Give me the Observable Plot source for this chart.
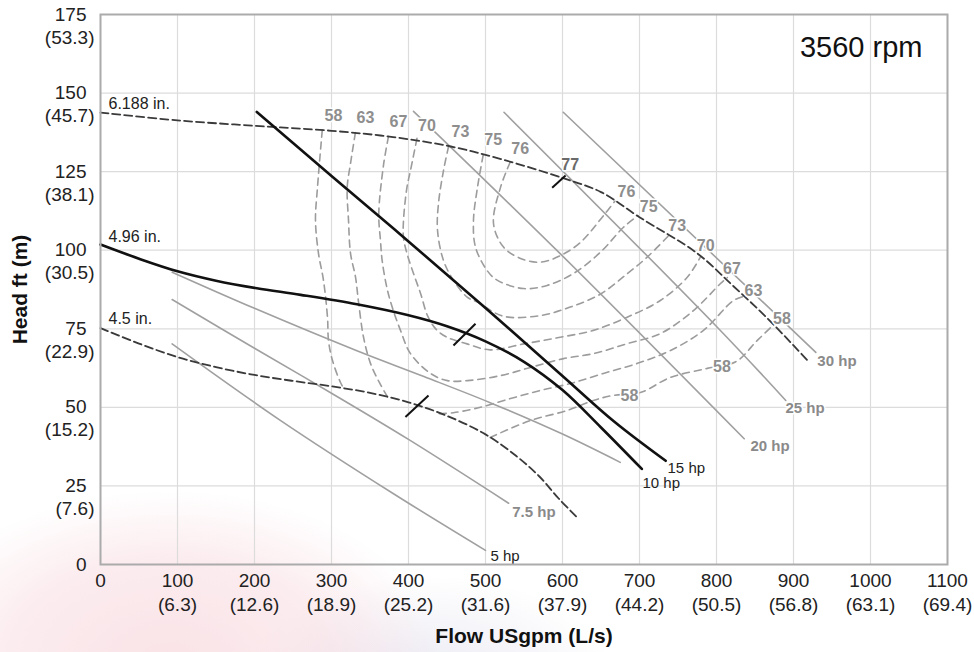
<!DOCTYPE html>
<html>
<head>
<meta charset="utf-8">
<script src="https://cdn.jsdelivr.net/npm/d3@7"></script>
<script src="https://cdn.jsdelivr.net/npm/@observablehq/plot@0.6"></script>
<style>
  html, body { margin: 0; padding: 0; }
  body {
    width: 974px; height: 652px; overflow: hidden;
    background:
      radial-gradient(ellipse 270px 170px at 170px 660px, rgba(246,208,215,0.6), rgba(246,208,215,0.4) 60%, rgba(246,208,215,0) 100%),
      radial-gradient(ellipse 190px 115px at 430px 690px, rgba(214,214,232,0.55), rgba(214,214,232,0) 100%),
      #ffffff;
  }
</style>
</head>
<body>
<script>
// ---------- axis ticks ----------
const xTicks = [0, 100, 200, 300, 400, 500, 600, 700, 800, 900, 1000, 1100];
const xMetric = ["", "(6.3)", "(12.6)", "(18.9)", "(25.2)", "(31.6)", "(37.9)", "(44.2)", "(50.5)", "(56.8)", "(63.1)", "(69.4)"];
const yTicks = [0, 25, 50, 75, 100, 125, 150, 175];
const yMetric = ["", "(7.6)", "(15.2)", "(22.9)", "(30.5)", "(38.1)", "(45.7)", "(53.3)"];

// ---------- impeller curves (flow USgpm, head ft) ----------
const imp6188 = [[0,143.8],[100,141.3],[200,139.6],[300,138],[380,136],[455,133],[520,129],[600,123],[650,118.5],[700,110.5],[775,99],[820,89],[865,78.6],[918,65]];
const imp496 = [[0,101.8],[50,97.3],[100,93.3],[150,90.3],[203,87.9],[260,85.8],[333,82.8],[400,79.3],[450,75.8],[500,71],[550,64.5],[600,55.5],[650,43.6],[703,30.4]];
const imp45 = [[0,75.2],[50,70.3],[100,66],[150,62.8],[200,60.3],[250,58.4],[300,56.7],[350,54.6],[400,51.6],[450,47.3],[500,41.4],[540,34.5],[570,28],[595,21],[619,15]];
const line15hp = [[203,144],[300,123.6],[400,102.8],[500,81.6],[600,60],[667,45.5],[734,33]];

// ---------- power lines (grey) ----------
const hp5 = [[93,70.2],[234,45.8],[380,22.6],[500,4.5]];
const hp75 = [[93,84.3],[200,68.8],[300,54.5],[400,39.8],[530,19.5]];
const hp10 = [[93,93],[200,81.5],[333,68],[420,59.8],[506,51.5],[600,41.5],[675,32.5]];
const hp20 = [[406.5,144.2],[597,98.9],[836,40]];
const hp25 = [[524,143.9],[801,75.5],[890,52.2]];
const hp30 = [[601,143.9],[929,67.5]];

// ---------- efficiency contours ----------
const eff58a = [[288,138.2],[281.8,120],[279.2,109.5],[283.1,99],[289.6,90.4],[294.8,78.6],[296.1,71.3],[301.3,64.9],[311.7,57.9],[316,56]];
const eff58b = [[506,40.4],[558,45.8],[606,49],[640,52.2],[666,53.8],[701,54.7],[740,59.5],[788,62.4],[825,64.5],[853,71.3],[875,76.5]];
const eff63a = [[331,137.4],[324.7,127.6],[320.4,120],[322.1,109.5],[324.7,99],[331.2,91.4],[335.1,83.5],[341.6,72.3],[350.6,64],[362,58],[374,52.8]];
const eff63b = [[440,48],[458.4,48.3],[489.6,49.8],[532.5,52.8],[571.4,55.4],[610.4,57.6],[653.2,60.8],[697.4,64],[740.3,68.1],[783.1,74.5],[822.1,84],[838,85.5]];
const eff67 = [[374,136.2],[367.5,127],[361.4,111.6],[363.6,103.1],[365.8,96.7],[372,88],[378.8,81.9],[389.6,74.5],[402.6,67.1],[428.6,60.8],[450.6,58.5],[476.6,58.5],[519.5,60.1],[558.4,62.7],[601.3,65.5],[640.3,67.1],[684.4,70.3],[727.3,73.5],[770.1,80.8],[805.2,89.4],[814,91.3]];
const eff70 = [[411,135.6],[402.6,125.4],[398,120],[393.5,109.5],[393.5,104],[398,99],[406.5,92.6],[416,86],[425,79],[436,74.8],[450,72.3],[476,70.2],[506,68.3],[550,70.2],[597,72.3],[640,74.5],[684,78.7],[727,84],[762,91.4],[779,97.8]];
const eff73 = [[452,133],[445.5,125.4],[439,115],[437.7,106.3],[445.5,96.7],[458.4,90.4],[476.6,85],[489.6,83.5],[523,79],[571,79.2],[610,81.9],[649,86],[684,92.5],[710,97.8],[738,104.7]];
const eff75 = [[497,130.3],[489.6,120],[484.4,109.5],[487,101],[502.2,93.5],[515.6,90.4],[549.4,87.8],[580,88.8],[614.3,92.6],[649.4,99.4],[679.2,107.3],[698,111]];
const eff76 = [[532,128],[519.5,120],[510.4,108.5],[523.4,101],[545.5,97.4],[571.4,96.2],[597.4,98.3],[623.4,102.5],[653.2,111],[668,115.6]];

// ---------- labels ----------
const effLabelText = ["58","63","67","70","73","75","76","77","76","75","73","70","67","63","58","58","58"];
const effLabelX = [302.6,344,387,424,467.5,510,545,610,683,712,749,786,820,848,885,807,687];
const effLabelY = [142.9,142,140.7,139.7,137.5,135,132.3,127,118.7,113.9,107.9,101.5,94.1,87,78.2,63,53.8];

const curveLabelText = ["6.188 in.", "4.96 in.", "4.5 in."];
const curveLabelX = [10.4, 10.4, 10.4];
const curveLabelY = [146.7, 104.4, 78.0];

const hpLabelText = ["30 hp", "25 hp", "20 hp", "7.5 hp"];
const hpLabelX = [931, 889.6, 844, 534.7];
const hpLabelY = [64.7, 49.6, 37.5, 16.6];
const hpLabelDarkText = ["15 hp", "10 hp", "5 hp"];
const hpLabelDarkX = [736.4, 703.9, 506.5];
const hpLabelDarkY = [30.8, 25.8, 2.5];

// best-efficiency tick marks
const bepX1 = [586.6, 458.4, 396];
const bepY1 = [119.9, 69.7, 46.9];
const bepX2 = [604, 487, 426];
const bepY2 = [123.8, 76.6, 53.8];

const speedLabel = "3560 rpm";
const xTitle = "Flow USgpm (L/s)";
const yTitle = "Head ft (m)";

// ---------- build tables ----------
const toRows = (list) => list.flatMap(([id, pts]) => pts.map(([x, y]) => ({id, x, y})));
const effRows = toRows([["58a", eff58a], ["58b", eff58b], ["63a", eff63a], ["63b", eff63b], ["67", eff67], ["70", eff70], ["73", eff73], ["75", eff75], ["76", eff76]]);
const powerRows = toRows([["5", hp5], ["7.5", hp75], ["10", hp10], ["20", hp20], ["25", hp25], ["30", hp30]]);
const dashedImpRows = toRows([["6.188", imp6188], ["4.5", imp45]]);
const pt = (a) => a.map(([x, y]) => ({x, y}));
const effLabels = effLabelText.map((t, i) => ({t, x: effLabelX[i], y: effLabelY[i]}));
const curveLabels = curveLabelText.map((t, i) => ({t, x: curveLabelX[i], y: curveLabelY[i]}));
const hpLabels = hpLabelText.map((t, i) => ({t, x: hpLabelX[i], y: hpLabelY[i]}));
const hpLabelsDark = hpLabelDarkText.map((t, i) => ({t, x: hpLabelDarkX[i], y: hpLabelDarkY[i]}));
const beps = bepX1.map((x1, i) => ({x1, y1: bepY1[i], x2: bepX2[i], y2: bepY2[i]}));

const FONT = "'Liberation Sans', Arial, Helvetica, sans-serif";

const chart = Plot.plot({
  width: 974,
  height: 652,
  marginLeft: 100,
  marginRight: 27,
  marginTop: 14,
  marginBottom: 88,
  x: {domain: [0, 1100]},
  y: {domain: [0, 175]},
  style: {fontFamily: FONT, background: "transparent", color: "#222"},
  marks: [
    Plot.gridX(xTicks, {stroke: "#dcdcdc", strokeOpacity: 1, strokeWidth: 1.2}),
    Plot.gridY(yTicks, {stroke: "#dcdcdc", strokeOpacity: 1, strokeWidth: 1.2}),
    // efficiency contours
    Plot.line(effRows, {x: "x", y: "y", z: "id", curve: "catmull-rom", stroke: "#9c9c9c", strokeWidth: 1.6, strokeDasharray: "7,5"}),
    // power lines
    Plot.line(powerRows, {x: "x", y: "y", z: "id", curve: "catmull-rom", stroke: "#a0a0a0", strokeWidth: 1.6}),
    // dashed impeller curves
    Plot.line(dashedImpRows, {x: "x", y: "y", z: "id", curve: "catmull-rom", stroke: "#3a3a3a", strokeWidth: 1.8, strokeDasharray: "8,4"}),
    // solid black curves
    Plot.line(pt(imp496), {x: "x", y: "y", curve: "catmull-rom", stroke: "#111", strokeWidth: 2.6}),
    Plot.line(pt(line15hp), {x: "x", y: "y", curve: "catmull-rom", stroke: "#111", strokeWidth: 2.6}),
    // BEP ticks
    Plot.link(beps, {x1: "x1", y1: "y1", x2: "x2", y2: "y2", stroke: "#111", strokeWidth: 2}),
    // efficiency labels
    Plot.text(effLabels, {x: "x", y: "y", text: "t", fontSize: 16, fontWeight: "bold",
      fill: (d) => d.t === "77" ? "#6a6a6a" : "#8e8e8e",
      stroke: "white", strokeWidth: 3, paintOrder: "stroke"}),
    // hp labels
    Plot.text(hpLabels, {x: "x", y: "y", text: "t", textAnchor: "start", fontSize: 15, fontWeight: "bold", fill: "#8a8a8a", stroke: "white", strokeWidth: 3, paintOrder: "stroke"}),
    Plot.text(hpLabelsDark, {x: "x", y: "y", text: "t", textAnchor: "start", fontSize: 15, fill: "#222"}),
    // impeller labels
    Plot.text(curveLabels, {x: "x", y: "y", text: "t", textAnchor: "start", fontSize: 16, fill: "#222"}),
    // speed label
    Plot.text([speedLabel], {text: (d) => d, frameAnchor: "top-right", dx: -25, dy: 33, textAnchor: "end", lineAnchor: "middle", fontSize: 29, fill: "#111"}),
    Plot.frame({stroke: "#ababab", strokeWidth: 2}),
    // axes
    Plot.axisX(xTicks, {label: null, tickSize: 0, tickPadding: 9, fontSize: 19, fill: "#222", tickFormat: (d) => String(d)}),
    Plot.axisX(xTicks, {label: null, tickSize: 0, tickPadding: 33, fontSize: 19, fill: "#222", tickFormat: (d) => xMetric[xTicks.indexOf(d)]}),
    Plot.axisY(yTicks, {label: null, tickSize: 0, tickPadding: 14, fontSize: 19, fill: "#222", tickFormat: (d) => String(d)}),
    Plot.axisY(yTicks, {label: null, tickSize: 0, tickPadding: 6, dy: 23, fontSize: 19, fill: "#222", tickFormat: (d) => yMetric[yTicks.indexOf(d)]}),
    // axis titles
    Plot.text([xTitle], {text: (d) => d, frameAnchor: "bottom", dy: 72, textAnchor: "middle", lineAnchor: "middle", fontSize: 21, fontWeight: "bold", fill: "#111"}),
    Plot.text([yTitle], {text: (d) => d, frameAnchor: "left", dx: -80, rotate: -90, textAnchor: "middle", lineAnchor: "middle", fontSize: 21, fontWeight: "bold", fill: "#111"})
  ]
});
document.body.append(chart);
</script>
</body>
</html>
